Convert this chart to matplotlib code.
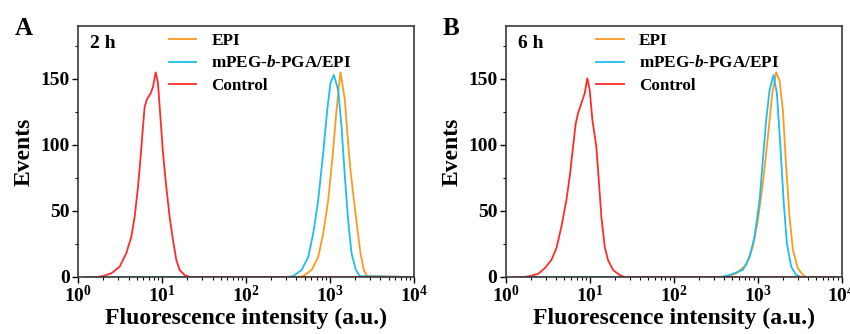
import numpy as np
import matplotlib
matplotlib.use("Agg")
import matplotlib.pyplot as plt

# log10(fluorescence) positions and event counts
ctrl_2h_x = [0.10, 0.22, 0.298, 0.397, 0.496, 0.575, 0.635, 0.675, 0.714, 0.746, 0.774, 0.794,
             0.821, 0.865, 0.893, 0.925, 0.952, 0.984, 1.012, 1.052, 1.091, 1.131, 1.171, 1.21,
             1.27, 1.33, 3.95]
ctrl_2h_y = [0, 0, 0.7, 2.8, 7.8, 18, 30.5, 45.7, 68, 91, 114, 129, 134.6, 139, 144, 155, 147,
             119, 94, 68, 45.7, 28, 12.9, 5.3, 1.5, 0, 0]

epi_2h_x = [0.10, 2.62, 2.683, 2.782, 2.861, 2.921, 2.98, 3.032, 3.079, 3.107, 3.127, 3.179,
            3.218, 3.246, 3.278, 3.325, 3.365, 3.405, 3.444, 3.95]
epi_2h_y = [0, 0, 0.7, 5.3, 15, 33, 58, 91, 126, 144, 155, 134, 101, 81, 63, 38, 18, 5.3, 0.7, 0]

nano_2h_x = [0.10, 2.50, 2.563, 2.663, 2.742, 2.802, 2.861, 2.921, 2.968, 3.008, 3.048, 3.099,
             3.139, 3.179, 3.218, 3.258, 3.31, 3.357, 3.95]
nano_2h_y = [0, 0, 0.7, 5.3, 15, 33, 58, 94, 126, 147, 153, 141.7, 114, 76, 43, 18, 5.3, 0.7, 0]

ctrl_6h_x = [0.10, 0.22, 0.286, 0.385, 0.464, 0.544, 0.603, 0.663, 0.722, 0.762, 0.802, 0.833,
             0.861, 0.901, 0.94, 0.972, 1.0, 1.032, 1.079, 1.111, 1.139, 1.179, 1.218, 1.278,
             1.357, 1.417, 3.95]
ctrl_6h_y = [0, 0, 0.7, 2.3, 6.6, 12.9, 21.7, 38, 58, 76, 98.7, 116, 124, 131.6, 139, 150.5,
             141.7, 119, 98.7, 71, 45.7, 23, 12.9, 5.3, 1.5, 0, 0]

epi_6h_x = [0.10, 2.62, 2.746, 2.865, 2.944, 3.004, 3.063, 3.123, 3.175, 3.222, 3.262, 3.302,
            3.341, 3.381, 3.421, 3.48, 3.54, 3.58, 3.95]
epi_6h_y = [0, 0, 2.8, 9, 23, 43, 71, 106, 139, 155, 149, 126, 83, 45.7, 20.5, 6.6, 1.5, 0, 0]

nano_6h_x = [0.10, 2.56, 2.667, 2.825, 2.905, 2.964, 3.024, 3.063, 3.103, 3.143, 3.19, 3.23,
             3.27, 3.31, 3.349, 3.401, 3.46, 3.52, 3.95]
nano_6h_y = [0, 0, 1.5, 5.3, 15, 30.5, 58, 88.6, 119, 141.7, 153, 139, 101, 58, 25.5, 7.8, 1.5,
             0, 0]

labels = ["EPI", "mPEG-$\\bfit{b}$-PGA/EPI", "Control"]
colors = ["#FF9A1F", "#1DBDEF", "#FF2A2A"]

plt.rcParams["font.family"] = "Liberation Serif"
plt.rcParams["font.weight"] = "bold"
plt.rcParams["axes.labelweight"] = "bold"
plt.rcParams["mathtext.fontset"] = "custom"
plt.rcParams["mathtext.bfit"] = "Liberation Serif:italic:bold"
plt.rcParams["mathtext.rm"] = "Liberation Serif:bold"

fig = plt.figure(figsize=(8.5, 3.34), dpi=100)
axA = fig.add_axes([0.0918, 0.1707, 0.395, 0.751])
axB = fig.add_axes([0.595, 0.1707, 0.395, 0.751])

panels = [
    (axA, "2 h", "A", [(epi_2h_x, epi_2h_y), (nano_2h_x, nano_2h_y), (ctrl_2h_x, ctrl_2h_y)]),
    (axB, "6 h", "B", [(epi_6h_x, epi_6h_y), (nano_6h_x, nano_6h_y), (ctrl_6h_x, ctrl_6h_y)]),
]

for ax, time_lbl, letter, series in panels:
    for (lx, y), lab, c in zip(series, labels, colors):
        ax.plot(10 ** np.array(lx), y, color=c, lw=1.3, label=lab)
    ax.set_xscale("log")
    ax.set_xlim(1, 1e4)
    ax.set_ylim(0, 190)
    ax.set_yticks([0, 50, 100, 150])
    ax.set_yticks([25, 75, 125, 175], minor=True)
    ax.tick_params(which="major", direction="out", length=4, width=1, labelsize=14, pad=2)
    ax.tick_params(which="minor", direction="out", length=2.5, width=0.8)
    for sp in ax.spines.values():
        sp.set_color("#3a3a3a")
        sp.set_linewidth(1.2)
    ax.set_xlabel("Fluorescence intensity (a.u.)", fontsize=17, labelpad=1)
    ax.set_ylabel("Events", fontsize=17, labelpad=4)
    ax.text(0.036, 0.932, time_lbl, transform=ax.transAxes, fontsize=14,
            va="center", ha="left")
    ax.legend(loc="upper left", bbox_to_anchor=(0.26, 0.985), frameon=False, fontsize=12.3,
              handlelength=1.6, handletextpad=0.9, labelspacing=0.36, borderaxespad=0,
              borderpad=0.2)
    pos = ax.get_position()
    fig.text(pos.x0 - 0.074, 0.915, letter, fontsize=18, va="center", ha="left")

fig.savefig("out.png", dpi=100)
